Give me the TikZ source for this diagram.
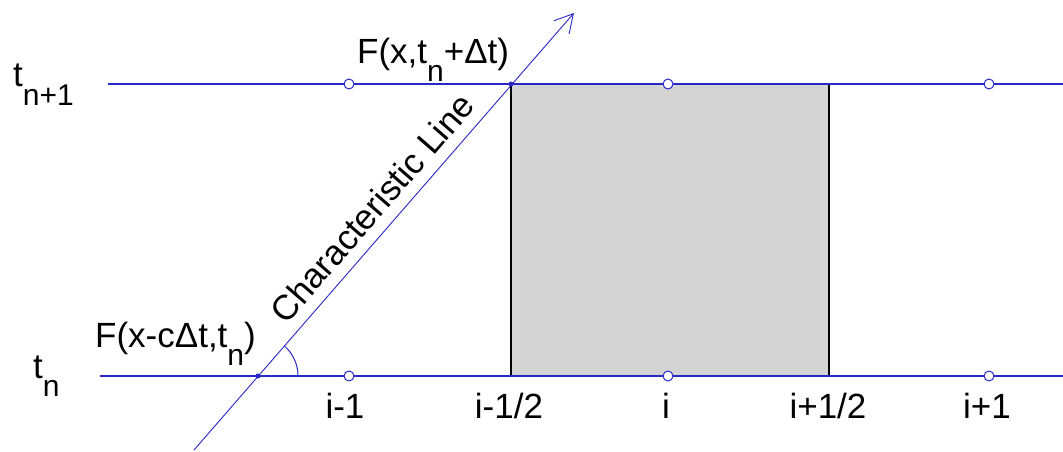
\documentclass[tikz,border=0pt]{standalone}
\usepackage{fontspec}
\setmainfont{Liberation Sans}
\usetikzlibrary{arrows.meta, positioning}

\definecolor{lineblue}{RGB}{40,40,200}
\definecolor{cellgray}{RGB}{212,212,212}
\newcommand{\lowsub}[1]{\raisebox{-18pt}{\fontsize{30}{30}\selectfont #1}}

\begin{document}
\begin{tikzpicture}[
    x = 1pt, y = 1pt,
    gridline/.style = {lineblue, line width=1.4pt},
    cellpt/.style   = {circle, draw=lineblue, fill=white,
                       line width=1pt, minimum size=10pt,
                       inner sep=0pt},
    footdot/.style  = {circle, fill=lineblue, inner sep=0pt,
                       minimum size=5pt},
    lbl/.style      = {inner sep=0pt, text=black,
                       font=\fontsize{35}{40}\selectfont},
    charline/.style = {lineblue, line width=0.9pt,
                       -{Straight Barb[length=18pt, width=20pt,
                                       line width=0.9pt]}}
]
\useasboundingbox (0,0) rectangle (1063,451);

%% Cell i-1/2 .. i+1/2
\coordinate (cellSW) at (511,75);
\coordinate (cellNW) at (511,367);
\coordinate (cellSE) at (829,75);
\coordinate (cellNE) at (829,367);
\fill[cellgray] (cellSW) rectangle (cellNE);
\draw[line width=1.4pt] (cellSW) -- (cellNW);
\draw[line width=1.4pt] (cellSE) -- (cellNE);

%% Time levels
\coordinate (tnW)  at (100,75);
\coordinate (tnE)  at (1063,75);
\coordinate (tnpW) at (108,367);
\coordinate (tnpE) at (1063,367);
\draw[gridline] (tnW)  -- (tnE);
\draw[gridline] (tnpW) -- (tnpE);

%% Grid points
\foreach \x/\n in {349/a, 668/b, 989/c} {
    \node[cellpt] (bot\n) at (\x,75)  {};
    \node[cellpt] (top\n) at (\x,367) {};
}

%% Characteristic line
\coordinate (clstart) at (194,1);
\coordinate (cltip)   at (574,438);
\draw[charline] (clstart) -- (cltip)
    node[lbl, pos=0.517, sloped, above=11pt] (cllabel)
    {Characteristic Line};
\node[footdot] (foot) at (258,75)  {};
\node[footdot] (head) at (511,367) {};

%% Angle
\draw[lineblue, line width=1pt] ([shift={(0:40)}]foot.center)
    arc[start angle=0, end angle=49, radius=40];

%% Labels
\node[lbl, anchor=base west] (tnp) at (13,364) {t\lowsub{n+1}};
\node[lbl, anchor=base west] (tn)  at (33,73)  {t\lowsub{n}};
\node[lbl, anchor=base west] (fhead) at (357,388)
    {F(x,t\lowsub{n}+Δt)};
\node[lbl, anchor=base west] (ffoot) at (95,104)
    {F(x-cΔt,t\lowsub{n})};

\node[lbl, anchor=base] (lim1)  at (345,33) {i-1};
\node[lbl, anchor=base] (lmh)   at (509,33) {i-1/2};
\node[lbl, anchor=base] (li)    at (666,33) {i};
\node[lbl, anchor=base] (lph)   at (828,33) {i+1/2};
\node[lbl, anchor=base] (lip1)  at (987,33) {i+1};
\end{tikzpicture}
\end{document}
